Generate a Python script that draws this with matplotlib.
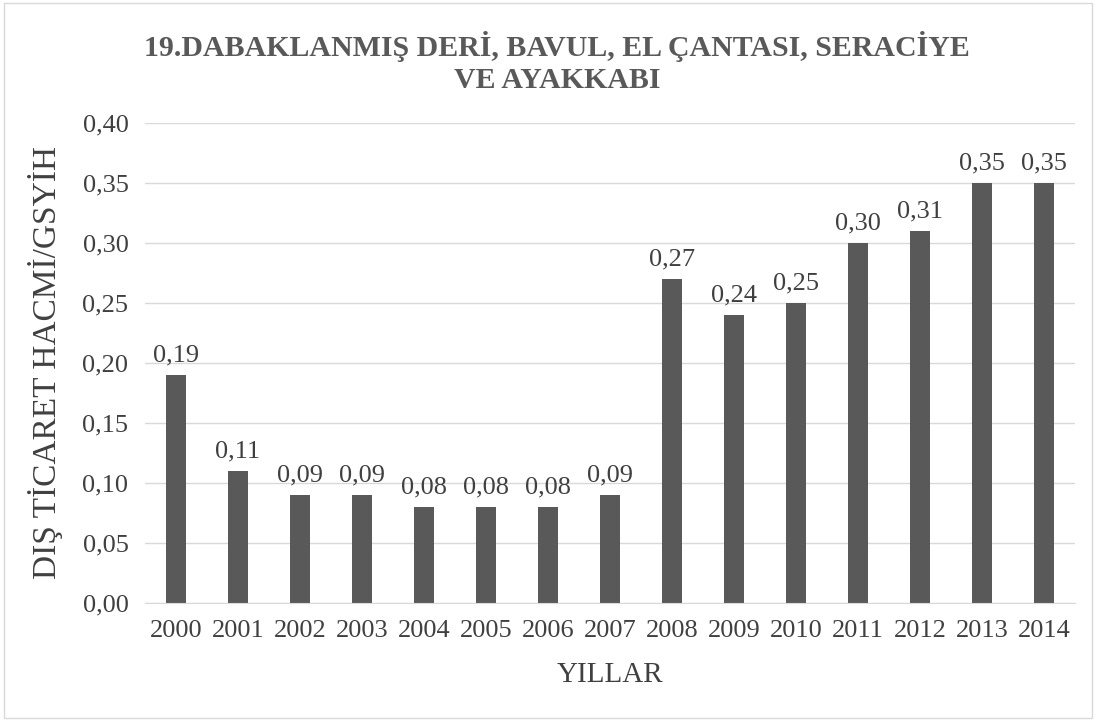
import matplotlib.pyplot as plt
from matplotlib.patches import Rectangle

years = ['2000', '2001', '2002', '2003', '2004', '2005', '2006', '2007',
         '2008', '2009', '2010', '2011', '2012', '2013', '2014']
values = [0.19, 0.11, 0.09, 0.09, 0.08, 0.08, 0.08, 0.09,
          0.27, 0.24, 0.25, 0.30, 0.31, 0.35, 0.35]
yticks = [0.0, 0.05, 0.10, 0.15, 0.20, 0.25, 0.30, 0.35, 0.40]

plt.rcParams['font.family'] = ['Liberation Serif', 'DejaVu Serif']

fig = plt.figure(figsize=(10.99, 7.22), dpi=100)
ax = fig.add_axes([0.132, 0.165, 0.846, 0.665])

x = range(len(years))
ax.bar(x, values, width=0.32, color='#595959', zorder=3)
for i, v in zip(x, values):
    ax.text(i, v + 0.007, ('%.2f' % v).replace('.', ','), ha='center', va='bottom',
            fontsize=19, color='#404040')

ax.set_xlim(-0.5, len(years) - 0.5)
ax.set_ylim(0, 0.40)
ax.set_yticks(yticks)
ax.set_yticklabels([('%.2f' % t).replace('.', ',') for t in yticks], fontsize=19, color='#404040')
ax.set_xticks(list(x))
ax.set_xticklabels(years, fontsize=19, color='#404040')
ax.tick_params(axis='y', length=0, pad=12)
ax.tick_params(axis='x', length=0, pad=12)
ax.grid(axis='y', color='#d9d9d9', linewidth=1, zorder=0)
for s in ['left', 'right', 'top']:
    ax.spines[s].set_visible(False)
ax.spines['bottom'].set_color('#d9d9d9')
ax.spines['bottom'].set_zorder(4)

ax.set_xlabel('YILLAR', fontsize=21, color='#404040', labelpad=15)
ax.set_ylabel('DIŞ TİCARET HACMİ/GSYİH', fontsize=24, color='#404040', labelpad=14)

fig.text(0.507, 0.913, '19.DABAKLANMIŞ DERİ, BAVUL, EL ÇANTASI, SERACİYE\nVE AYAKKABI',
         ha='center', va='center', fontsize=21.5, fontweight='bold', color='#595959',
         linespacing=1.25)

fig.patches.append(Rectangle((0.004, 0.006), 0.99, 0.99, transform=fig.transFigure,
                             fill=False, edgecolor='#d9d9d9', linewidth=1))

fig.savefig('out.png', dpi=100)
